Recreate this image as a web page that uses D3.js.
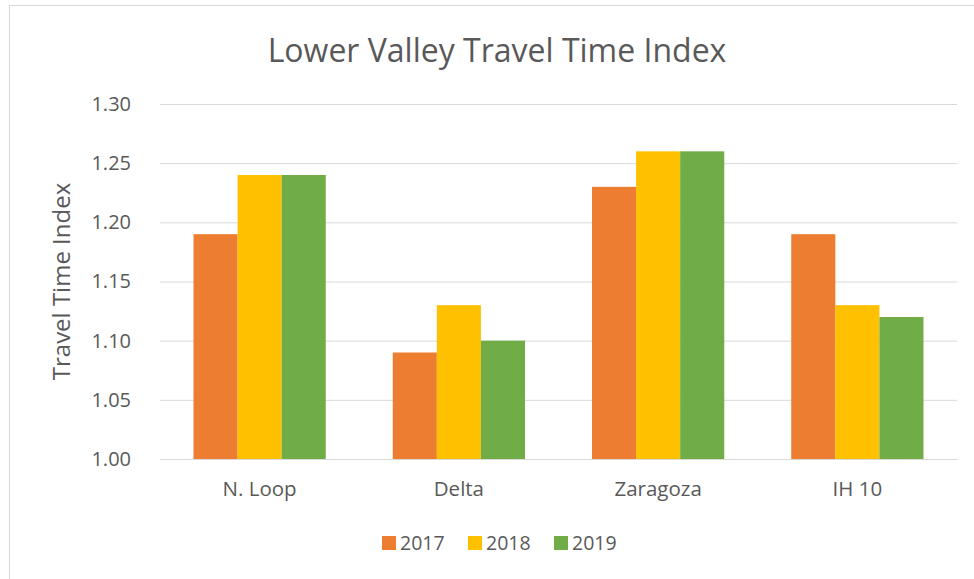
<!DOCTYPE html>
<html>
<head>
<meta charset="utf-8">
<script src="https://cdn.jsdelivr.net/npm/d3@7"></script>
<style>
  body { margin: 0; background: #fff; }
  text { font-family: "Open Sans", "Noto Sans", sans-serif; fill: #595959; }
</style>
</head>
<body>
<svg id="chart" width="974" height="579"></svg>
<script>
// data
var categories = ["N. Loop", "Delta", "Zaragoza", "IH 10"];
var years = ["2017", "2018", "2019"];
var values2017 = [1.19, 1.09, 1.23, 1.19];
var values2018 = [1.24, 1.13, 1.26, 1.13];
var values2019 = [1.24, 1.10, 1.26, 1.12];
var yTicks = [1.00, 1.05, 1.10, 1.15, 1.20, 1.25, 1.30];
var colors = ["#ED7D31", "#FFC000", "#70AD47"];

var svg = d3.select("#chart");
var width = +svg.attr("width");
var height = +svg.attr("height");
var plot = {left: 160, right: 957, top: 104, bottom: 459};

// chart border
svg.append("rect")
  .attr("x", 9.5)
  .attr("y", 5.5)
  .attr("width", width)
  .attr("height", height)
  .attr("fill", "none")
  .attr("stroke", "#d9d9d9");

var series = [values2017, values2018, values2019];

// scales
var x0 = d3.scaleBand().domain(categories).range([plot.left, plot.right]);
var x1 = d3.scaleBand().domain(years).range([0, x0.bandwidth()])
  .paddingInner(0).paddingOuter(0.76);
var yScale = d3.scaleLinear().domain([1.0, 1.3]).range([plot.bottom, plot.top]);
var color = d3.scaleOrdinal().domain(years).range(colors);

// gridlines + y axis
var yAxis = d3.axisLeft(yScale)
  .tickValues(yTicks)
  .tickFormat(d3.format(".2f"))
  .tickSize(-(plot.right - plot.left))
  .tickPadding(29);
var gy = svg.append("g")
  .attr("transform", "translate(" + plot.left + ",0)")
  .call(yAxis);
gy.select(".domain").remove();
gy.selectAll(".tick line").attr("stroke", "#d9d9d9").attr("stroke-width", 1);
gy.selectAll(".tick text")
  .attr("font-size", "20px")
  .style("fill", "#595959");

// bars
var groups = svg.append("g").selectAll("g")
  .data(categories)
  .enter().append("g")
  .attr("transform", function(d) { return "translate(" + x0(d) + ",0)"; });

groups.selectAll("rect")
  .data(function(d, i) {
    return years.map(function(y, j) { return {year: y, value: series[j][i]}; });
  })
  .enter().append("rect")
  .attr("x", function(d) { return x1(d.year); })
  .attr("y", function(d) { return yScale(d.value); })
  .attr("width", x1.bandwidth())
  .attr("height", function(d) { return yScale(1.0) - yScale(d.value); })
  .attr("fill", function(d) { return color(d.year); });

// x axis
var xAxis = d3.axisBottom(x0).tickSize(0).tickPadding(22);
var gx = svg.append("g")
  .attr("transform", "translate(0," + plot.bottom + ")")
  .call(xAxis);
gx.select(".domain").attr("stroke", "#d9d9d9");
gx.selectAll(".tick text")
  .attr("font-size", "20.5px")
  .style("fill", "#595959");

// title
svg.append("text")
  .attr("x", 497)
  .attr("y", 62)
  .attr("text-anchor", "middle")
  .attr("font-size", "32px")
  .text("Lower Valley Travel Time Index");

// y label
svg.append("text")
  .attr("transform", "translate(70," + ((plot.top + plot.bottom) / 2) + ") rotate(-90)")
  .attr("text-anchor", "middle")
  .attr("font-size", "24px")
  .text("Travel Time Index");

// legend
var legendX = [382, 468, 554];
var legend = svg.append("g").selectAll("g")
  .data(years)
  .enter().append("g")
  .attr("transform", function(d, i) { return "translate(" + legendX[i] + ",536)"; });
legend.append("rect")
  .attr("width", 14)
  .attr("height", 14)
  .attr("fill", function(d) { return color(d); });
legend.append("text")
  .attr("x", 18)
  .attr("y", 14)
  .attr("font-size", "19.5px")
  .text(function(d) { return d; });
</script>
</body>
</html>
